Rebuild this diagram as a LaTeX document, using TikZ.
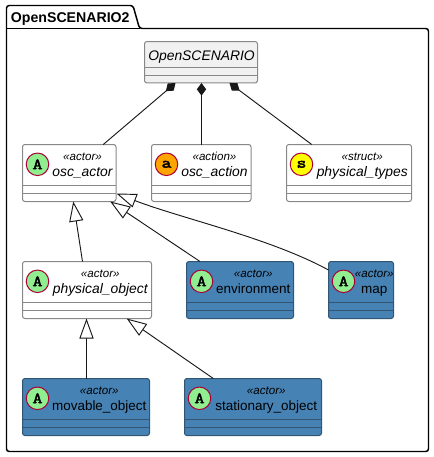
\documentclass[tikz,border=0pt]{standalone}
\usepackage{fontspec}
\usepackage{xcolor}
\usetikzlibrary{arrows.meta}
\setmainfont{Liberation Sans}
\newfontfamily\spotfont{Latin Modern Mono}[FakeBold=3,FakeStretch=1.25]
\definecolor{actor_green}{RGB}{144,238,144}
\definecolor{action_orange}{RGB}{255,165,0}
\definecolor{struct_yellow}{RGB}{255,255,0}
\definecolor{spot_edge}{RGB}{168,0,54}
\definecolor{box_edge}{RGB}{136,136,136}
\definecolor{blue_fill}{RGB}{70,130,180}
\definecolor{blue_edge}{RGB}{50,85,115}
\definecolor{head_fill}{RGB}{241,241,241}
\definecolor{uml_line}{RGB}{24,24,24}

\tikzset{
    classbox/.style = {rectangle, rounded corners=1.8pt, inner sep=0pt, outer sep=0pt, line width=0.75pt},
    plainbox/.style = {draw=box_edge, fill=white},
    bluebox/.style = {draw=blue_edge, fill=blue_fill},
    headbox/.style = {draw=box_edge, fill=head_fill},
    plaintext/.style = {font=\fontsize{10.4}{12}\selectfont\itshape},
    bluetext/.style = {font=\fontsize{10.1}{12}\selectfont},
    stereo/.style = {font=\fontsize{8.7}{10}\selectfont\itshape},
    spot/.style = {circle, draw=spot_edge, line width=0.75pt, minimum size=16.9pt, inner sep=0pt,
        font=\spotfont\fontsize{11.5}{12}\selectfont},
    composes/.style = {{Diamond[length=9.5pt,width=7pt]}-, draw=uml_line, line width=0.7pt},
    extends/.style = {-{Triangle[length=15pt,width=10.6pt,fill=white]}, draw=uml_line, line width=0.7pt},
    pkgline/.style = {draw=black, line width=1.1pt, rounded corners=2pt},
}

% id, left, top, right, look, letter, spot colour, stereotype, name
\newcommand{\umlclass}[9]{
    \node[classbox, #5box, minimum width={(#4-#2)*0.75pt}, minimum height=42.75pt]
        (#1) at ({(#2+#4)/2},{#3+28.5}) {};
    \draw[#5box, line width=0.75pt] ([shift={(0,-16)}]#1.south west) -- ([shift={(0,-16)}]#1.south east);
    \draw[#5box, line width=0.75pt] ([shift={(0,-8)}]#1.south west) -- ([shift={(0,-8)}]#1.south east);
    \node[spot, fill=#7] (#1_spot) at (#2+15,#3+19.8) {#6};
    \node[stereo, anchor=base] (#1_stereo) at ({(#2+#4+26.5)/2},#3+15.5) {«#8»};
    \node[#5text, anchor=base] (#1_name) at ({(#2+#4+26.5)/2},#3+31.6) {#9};
}

\begin{document}
\begin{tikzpicture}[x=0.75pt, y=-0.75pt]
    \useasboundingbox (0,0) rectangle (434,457);

    \draw[pkgline] (6.5,451.5) -- (6.5,5.5) -- (133,5.5) -- (139.5,28.5) -- (428.5,28.5) -- (428.5,451.5) -- cycle;
    \draw[draw=black, line width=1.1pt] (6.5,28.5) -- (139.5,28.5);
    \node[font=\fontsize{10.6}{12}\selectfont\bfseries, anchor=base west, inner sep=0pt] (package_title) at (10.7,22) {OpenSCENARIO2};

    \node[classbox, headbox, minimum width=84.75pt, minimum height=31.1pt] (open_scenario) at (201,62.25) {};
    \draw[headbox, line width=0.75pt] ([shift={(0,-15.5)}]open_scenario.south west) -- ([shift={(0,-15.5)}]open_scenario.south east);
    \draw[headbox, line width=0.75pt] ([shift={(0,-7.5)}]open_scenario.south west) -- ([shift={(0,-7.5)}]open_scenario.south east);
    \node[plaintext, anchor=base] (open_scenario_name) at (201.5,60) {OpenSCENARIO};

    \umlclass{osc_actor}{22.5}{144.5}{116}{plain}{A}{actor_green}{actor}{osc\_actor}
    \umlclass{osc_action}{151.5}{144.5}{251}{plain}{a}{action_orange}{action}{osc\_action}
    \umlclass{physical_types}{286.5}{144.5}{411.5}{plain}{s}{struct_yellow}{struct}{physical\_types}
    \umlclass{physical_object}{22.5}{261.5}{151.5}{plain}{A}{actor_green}{actor}{physical\_object}
    \umlclass{environment}{186.5}{261.5}{293.5}{blue}{A}{actor_green}{actor}{environment}
    \umlclass{map}{328.5}{261.5}{393.5}{blue}{A}{actor_green}{actor}{map}
    \umlclass{movable_object}{22.5}{378.5}{149.5}{blue}{A}{actor_green}{actor}{movable\_object}
    \umlclass{stationary_object}{184.5}{378.5}{321.5}{blue}{A}{actor_green}{actor}{stationary\_object}

    \draw[composes] ([shift={(-25.5,0)}]open_scenario.south) -- ([shift={(34,0)}]osc_actor.north);
    \draw[composes] ([shift={(0.5,0)}]open_scenario.south) -- ([shift={(0.25,0)}]osc_action.north);
    \draw[composes] ([shift={(28.5,0)}]open_scenario.south) -- ([shift={(-37.3,0)}]physical_types.north);

    \draw[extends] ([shift={(-4.5,0)}]physical_object.north) -- ([shift={(4,0)}]osc_actor.south);
    \draw[extends] ([shift={(-40,0)}]environment.north) -- ([shift={(41,0)}]osc_actor.south);
    \draw[extends] ([shift={(0,-20)}]map.west) .. controls (270,238) and (180,218) .. ([shift={(0.5,20.5)}]osc_actor.east);
    \draw[extends] ([shift={(0.5,0)}]movable_object.north) -- ([shift={(-0.5,0)}]physical_object.south);
    \draw[extends] ([shift={(-39.7,0)}]stationary_object.north) -- ([shift={(39.7,0)}]physical_object.south);
\end{tikzpicture}
\end{document}
